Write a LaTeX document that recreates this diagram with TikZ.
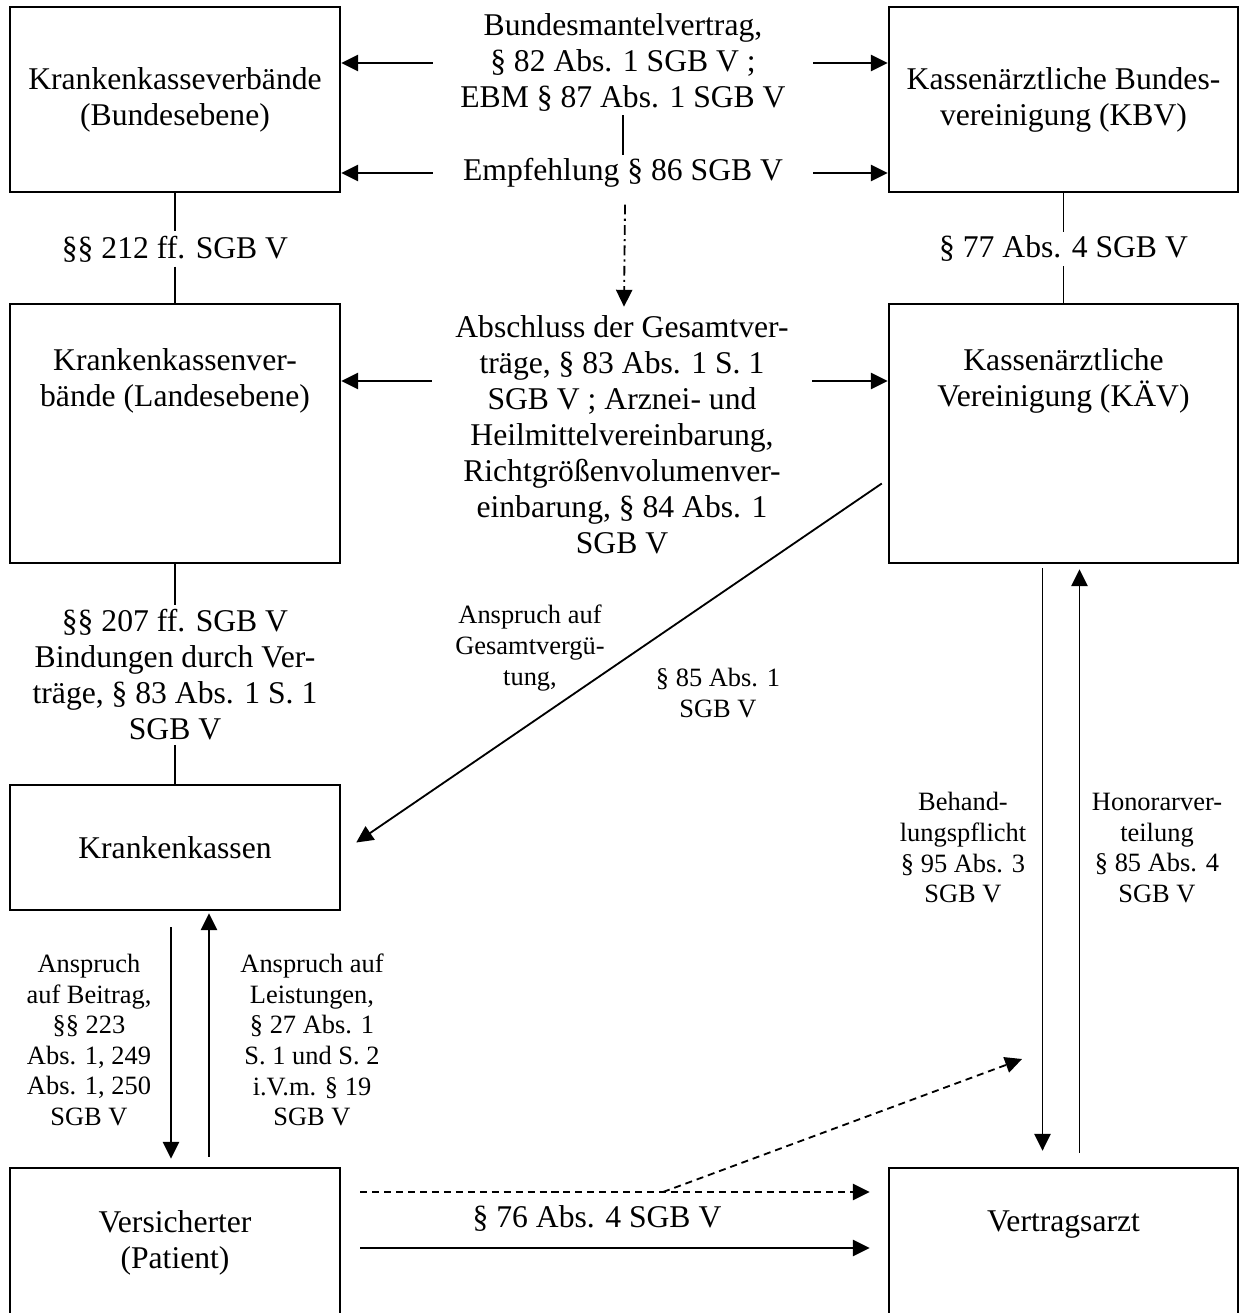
\documentclass[tikz,border=0pt]{standalone}
\usepackage{fontspec}
\setmainfont{Liberation Serif}
\usepackage{tikz}
\usetikzlibrary{arrows.meta}
\tikzset{
    box_plain/.style={
        rectangle, draw=black, line width=1.7pt, inner sep=0pt,
        align=center, font=\fontsize{22.5}{25.6}\selectfont
    },
    lbl_big/.style={
        align=center, inner sep=3pt, font=\fontsize{22.5}{25.6}\selectfont
    },
    lbl_small/.style={
        align=center, inner sep=2pt, font=\fontsize{18.8}{21.8}\selectfont
    },
    mid_lbl/.style={
        lbl_big, minimum width=9.5cm, inner xsep=0pt, inner ysep=2pt
    },
    link_line/.style={draw=black, line width=1.2pt},
    link_arrow/.style={->, draw=black, line width=1.3pt},
    link_dash/.style={->, draw=black, line width=1.3pt, dash pattern=on 5pt off 3.5pt},
    link_dashdot/.style={->, draw=black, line width=1.3pt, dash pattern=on 7pt off 3pt on 1.5pt off 3pt}
}

\begin{document}
\begin{tikzpicture}[x=0.025cm, y=-0.025cm, >={Triangle[length=12pt, width=11.5pt]}]

    \useasboundingbox (0,0) rectangle (1241,1313);
    \clip (0,0) rectangle (1241,1313);

    % Row 1: federal level
    \node[box_plain, minimum width=8.25cm, minimum height=4.625cm] (kk_bund) at (175, 99.5) {
        Krankenkasseverbände\\(Bundesebene)
    };
    \node[box_plain, minimum width=8.725cm, minimum height=4.625cm] (kbv) at (1063.5, 99.5) {
        Kassenärztliche Bundes-\\vereinigung (KBV)
    };

    % Row 2: state level (text sits in the upper part of the box)
    \node[box_plain, minimum width=8.25cm, minimum height=6.475cm] (kk_land) at (175, 433.5) {};
    \node[lbl_big] (kk_land_txt) at ([shift={(0,-52.5)}]kk_land.center) {Krankenkassenver-\\bände (Landesebene)};
    \node[box_plain, minimum width=8.725cm, minimum height=6.475cm] (kaev) at (1063.5, 433.5) {};
    \node[lbl_big] (kaev_txt) at ([shift={(0,-52.5)}]kaev.center) {Kassenärztliche\\Vereinigung (KÄV)};

    % Row 3: Krankenkassen
    \node[box_plain, minimum width=8.25cm, minimum height=3.125cm] (kassen) at (175, 847.5) {Krankenkassen};

    % Row 4: Versicherter and Vertragsarzt (cut by the lower edge)
    \node[box_plain, minimum width=8.25cm, minimum height=3.75cm] (vers) at (175, 1243) {
        Versicherter\\(Patient)
    };
    \node[box_plain, minimum width=8.725cm, minimum height=3.75cm] (arzt) at (1063.5, 1243) {};
    \node[lbl_big] (arzt_txt) at ([shift={(0,-18)}]arzt.center) {Vertragsarzt};

    % Middle column texts
    \node[mid_lbl] (lbl_bmv) at (623, 63) {
        Bundesmantelvertrag,\\§ 82 Abs. 1 SGB V ;\\EBM § 87 Abs. 1 SGB V
    };
    \node[mid_lbl] (lbl_empf) at (623, 173) {Empfehlung § 86 SGB V};
    \node[mid_lbl] (lbl_gesamt) at (622, 435) {
        Abschluss der Gesamtver-\\träge, § 83 Abs. 1 S. 1\\SGB V ; Arznei- und\\Heilmittelvereinbarung,\\Richtgrößenvolumenver-\\einbarung, § 84 Abs. 1\\SGB V
    };

    % Vertical links between the levels
    \node[lbl_big] (lbl_212) at (175, 249) {§§ 212 ff. SGB V};
    \node[lbl_big] (lbl_207) at (175, 675) {§§ 207 ff. SGB V\\Bindungen durch Ver-\\träge, § 83 Abs. 1 S. 1\\SGB V};
    \node[lbl_big] (lbl_77) at (1063.5, 249) {§ 77 Abs. 4 SGB V};

    \draw[link_line] (kk_bund) -- (lbl_212) (lbl_212) -- (kk_land);
    \draw[link_line] (kk_land) -- (lbl_207) (lbl_207) -- (kassen);
    \draw[link_line] (kbv) -- (lbl_77) (lbl_77) -- (kaev);

    % Contracts on federal and state level
    \draw[link_arrow] (lbl_bmv.west) -- (lbl_bmv.west -| kk_bund.east);
    \draw[link_arrow] (lbl_bmv.east) -- (lbl_bmv.east -| kbv.west);
    \draw[link_arrow] (lbl_empf.west) -- (lbl_empf.west -| kk_bund.east);
    \draw[link_arrow] (lbl_empf.east) -- (lbl_empf.east -| kbv.west);
    \draw[link_line] (lbl_bmv) -- (lbl_empf);
    \draw[link_dashdot] ([shift={(2,14)}]lbl_empf.south) -- ([shift={(2,-6)}]lbl_gesamt.north);
    \draw[link_arrow] (lbl_gesamt.west |- kk_land_txt) -- (kk_land_txt -| kk_land.east);
    \draw[link_arrow] (lbl_gesamt.east |- kaev_txt) -- (kaev_txt -| kaev.west);

    % Gesamtvergütung
    \draw[link_arrow] ([shift={(-6,50)}]kaev.west) -- ([shift={(15,-5)}]kassen.east);
    \node[lbl_small] (lbl_gv) at (530, 648) {Anspruch auf\\Gesamtvergü-\\tung,};
    \node[lbl_small] (lbl_85_1) at (718, 693) {§ 85 Abs. 1\\SGB V};

    % KÄV <-> Vertragsarzt
    \draw[link_arrow] ([shift={(-21,4)}]kaev.south) -- ([shift={(-21,-16)}]arzt.north);
    \draw[link_arrow] ([shift={(16,-14)}]arzt.north) -- ([shift={(16,5)}]kaev.south);
    \node[lbl_small] (lbl_behand) at (963, 848) {Behand-\\lungspflicht\\§ 95 Abs. 3\\SGB V};
    \node[lbl_small] (lbl_honorar) at (1157, 848) {Honorarver-\\teilung\\§ 85 Abs. 4\\SGB V};

    % Krankenkassen <-> Versicherter
    \draw[link_arrow] ([shift={(-4,16)}]kassen.south) -- ([shift={(-4,-8)}]vers.north);
    \draw[link_arrow] ([shift={(34,-10)}]vers.north) -- ([shift={(34,2)}]kassen.south);
    \node[lbl_small] (lbl_beitrag) at (89, 1040) {Anspruch\\auf Beitrag,\\§§ 223\\Abs. 1, 249\\Abs. 1, 250\\SGB V};
    \node[lbl_small] (lbl_leist) at (312, 1040) {Anspruch auf\\Leistungen,\\§ 27 Abs. 1\\S. 1 und S. 2\\i.V.m. § 19\\SGB V};

    % Versicherter -> Vertragsarzt
    \draw[link_dash] ([shift={(19,-51)}]vers.east) -- ([shift={(-18,-51)}]arzt.west);
    \draw[link_arrow] ([shift={(19,5)}]vers.east) -- ([shift={(-18,5)}]arzt.west);
    \node[lbl_big] (lbl_76) at (597, 1218) {§ 76 Abs. 4 SGB V};
    \coordinate (dash_split) at (663, 1192);
    \coordinate (dash_end) at (1022, 1059);
    \draw[link_dash] (dash_split) -- (dash_end);

\end{tikzpicture}
\end{document}
